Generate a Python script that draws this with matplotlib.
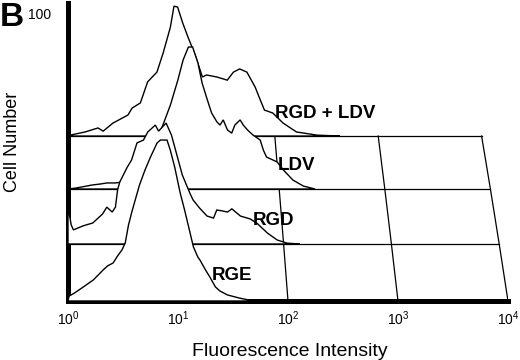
import matplotlib
matplotlib.use("Agg")
import matplotlib.pyplot as plt
from matplotlib.ticker import NullLocator
import numpy as np

plt.rcParams["font.family"] = ["Liberation Sans", "DejaVu Sans"]
plt.rcParams["mathtext.fontset"] = "custom"
plt.rcParams["mathtext.rm"] = "Liberation Sans"

# histograms: x in log10 fluorescence, y in cell number
rge_logfl = [0.0, 0.01, 0.06, 0.14, 0.23, 0.32, 0.36, 0.41, 0.45, 0.49, 0.52, 0.55,
             0.58, 0.65, 0.70, 0.75, 0.81, 0.84, 0.90, 0.93, 0.97, 1.02, 1.06, 1.11,
             1.14, 1.18, 1.20, 1.25, 1.29, 1.34, 1.38, 1.45, 1.56, 1.65, 1.75]
rge_count = [0, 1.7, 2.8, 4.9, 7.3, 10.8, 12.2, 13.2, 15.6, 17.7, 20.1, 26.4,
             30.9, 40.3, 45.5, 50.0, 54.9, 55.9, 55.9, 52.4, 46.5, 37.5, 31.6, 23.6,
             18.8, 15.3, 14.2, 10.8, 8.3, 4.9, 3.5, 2.1, 1.0, 0.3, 0]

rgd_logfl = [0.0, 0.0, 0.01, 0.03, 0.05, 0.14, 0.23, 0.32, 0.36, 0.41, 0.44, 0.46,
             0.48, 0.55, 0.59, 0.64, 0.70, 0.74, 0.81, 0.84, 0.91, 0.96, 1.01, 1.06,
             1.13, 1.16, 1.22, 1.29, 1.35, 1.38, 1.43, 1.48, 1.52, 1.60, 1.69, 1.75,
             1.85, 1.94, 2.03, 2.15]
rgd_count = [0, 10.8, 10.8, 6.6, 4.9, 6.3, 7.3, 10.4, 12.8, 11.1, 12.8, 18.8,
             21.5, 26.7, 29.2, 35.1, 36.1, 38.9, 41.3, 39.2, 42.0, 37.8, 30.9, 24.0,
             17.7, 15.3, 12.5, 9.7, 9.0, 11.8, 11.5, 11.1, 12.2, 9.7, 8.7, 7.3,
             3.8, 1.4, 0.3, 0]

ldv_logfl = [0.0, 0.07, 0.13, 0.23, 0.30, 0.37, 0.45, 0.51, 0.59, 0.68, 0.78, 0.87,
             0.97, 1.04, 1.09, 1.14, 1.18, 1.23, 1.27, 1.32, 1.36, 1.41, 1.44, 1.47,
             1.51, 1.55, 1.58, 1.63, 1.66, 1.70, 1.75, 1.82, 1.85, 1.88, 1.98, 2.04,
             2.13, 2.23, 2.34]
ldv_count = [0, 0.3, 0.7, 1.4, 1.7, 2.1, 2.1, 2.4, 3.8, 6.6, 13.5, 19.4,
             29.2, 37.8, 44.8, 49.3, 49.3, 43.8, 36.8, 30.9, 26.4, 23.3, 22.2, 24.0,
             20.5, 19.4, 22.2, 24.0, 22.2, 20.5, 18.8, 17.0, 13.5, 11.1, 9.4, 6.6,
             3.1, 1.0, 0]

both_logfl = [0.0, 0.02, 0.165, 0.29, 0.34, 0.435, 0.58, 0.62, 0.70, 0.77, 0.86, 0.92,
              0.99, 1.025, 1.06, 1.11, 1.16, 1.23, 1.30, 1.34, 1.44, 1.54, 1.60, 1.66,
              1.73, 1.81, 1.86, 1.90, 1.98, 2.08, 2.21, 2.41, 2.63]
both_count = [0, 0.3, 1.4, 2.8, 1.7, 4.5, 7.3, 9.7, 11.5, 18.8, 22.2, 28.8,
              37.8, 45.1, 44.8, 39.2, 34.4, 28.1, 20.5, 21.2, 20.5, 19.4, 22.2, 23.3,
              22.2, 17.0, 12.5, 9.0, 8.0, 4.5, 1.4, 0.3, 0]

# front to back
labels = ["RGE", "RGD", "LDV", "RGD + LDV"]
curves = [(rge_logfl, rge_count), (rgd_logfl, rgd_count),
          (ldv_logfl, ldv_count), (both_logfl, both_count)]
label_pos = [(1.31, 7.3), (1.71, 6.6), (1.99, 6.6), (2.0, 6.3)]

# 3d offset of each layer
offsets = [0, 19.8, 38.9, 57.3]
shrink = [1.0, 0.98, 0.96, 0.94]


def to_axes(logfl, count, k):
    x = 10 ** (np.asarray(logfl) * shrink[k])
    y = np.asarray(count) + offsets[k]
    return x, y


fig = plt.figure(figsize=(5.2, 3.6), dpi=100)
ax = fig.add_axes([68 / 520, 59 / 360, 440 / 520, 298 / 360])
ax.set_xscale("log")
ax.set_xlim(1, 1e4)
ax.set_ylim(0, 103.5)

# floor grid
for k in range(4):
    ax.plot([1, 10 ** (4 * shrink[k])], [offsets[k], offsets[k]],
            color="black", lw=0.9, zorder=1)
for d in [2, 3, 4]:
    xs = [10 ** (d * s) for s in shrink]
    ax.plot(xs, offsets, color="black", lw=0.9, zorder=1)

# histograms, back first so front ones hide them
for k in [3, 2, 1, 0]:
    x, y = to_axes(*curves[k], k)
    ax.fill(x, y, facecolor="white", edgecolor="black", lw=1.0, zorder=5 - k)
    lx, ly = to_axes([label_pos[k][0]], [label_pos[k][1]], k)
    ax.text(lx[0], ly[0], labels[k], ha="left", va="baseline",
            fontsize=13.5, fontweight="bold", zorder=10)

for side in ["top", "right"]:
    ax.spines[side].set_visible(False)
for side in ["left", "bottom"]:
    ax.spines[side].set_linewidth(3.6)
    ax.spines[side].set_capstyle("projecting")

ax.set_xticks([1, 10, 100, 1000, 10000])
ax.set_xticklabels([r"$\mathregular{10^{%d}}$" % i for i in range(5)])
ax.xaxis.set_minor_locator(NullLocator())
ax.set_yticks([100])
ax.set_yticklabels(["100"])
ax.tick_params(axis="x", length=0, pad=6, labelsize=10)
ax.tick_params(axis="y", length=0, pad=12, labelsize=10)

ax.set_xlabel("Fluorescence Intensity", fontsize=14)
ax.xaxis.label.set_va("center")
ax.xaxis.set_label_coords(0.505, -0.168)
ax.set_ylabel("Cell Number", fontsize=13)
ax.yaxis.label.set_va("center")
ax.yaxis.set_label_coords(-0.125, 0.534)

fig.text(0.0, 1 - 1.5 / 360, "B", ha="left", va="top",
         fontsize=24, fontweight="bold")

fig.savefig("out.png", dpi=100)
